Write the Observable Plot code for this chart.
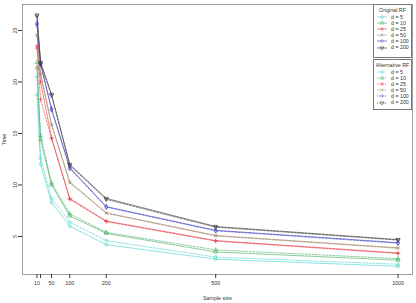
<!DOCTYPE html>
<html><head><meta charset="utf-8">
<script src="https://cdn.jsdelivr.net/npm/d3@7"></script>
<script src="https://cdn.jsdelivr.net/npm/@observablehq/plot@0.6"></script>
<style>
body{margin:0;background:#fff;font-family:"Liberation Sans",Arial,sans-serif;}
#wrap{position:relative;width:416px;height:303px;overflow:hidden;}
.lg{position:absolute;border:1px solid #777;background:#fff;box-sizing:border-box;font-size:5.3px;color:#333;}
.lg .t{text-align:center;line-height:7px;margin-top:2px;}
.lg .r{height:6.1px;line-height:6.1px;white-space:nowrap;display:flex;align-items:center;}
.lg svg{display:block;margin-left:3px;margin-right:4px;}
</style></head>
<body><div id="wrap"></div>
<script>
const sampleSizes = [10, 20, 50, 100, 200, 500, 1000];
const dims = ["5", "10", "25", "50", "100", "200"];
const colors = ["#40D0C8", "#3CAA5A", "#E8343C", "#A08060", "#3A3AC8", "#333333"];
const symbols = ["circle", "triangle", "plus", "times", "diamond", "triangle"];
// Original RF (solid)
const orig_d5   = [18.8, 12.0, 8.3, 6.0, 4.2, 2.8, 2.1];
const orig_d10  = [21.4, 14.4, 10.0, 7.0, 5.3, 3.5, 2.7];
const orig_d25  = [23.5, 20.0, 14.6, 8.7, 6.5, 4.6, 3.4];
const orig_d50  = [24.6, 20.8, 15.9, 10.3, 7.3, 5.1, 3.9];
const orig_d100 = [25.7, 21.8, 17.4, 11.7, 7.9, 5.6, 4.4];
const orig_d200 = [26.5, 21.9, 18.8, 12.0, 8.7, 5.97, 4.7];
// Alternative RF (dashed)
const alt_d5   = [20.5, 12.6, 8.7, 6.4, 4.6, 3.0, 2.3];
const alt_d10  = [21.9, 14.8, 10.2, 7.2, 5.4, 3.7, 2.85];
const alt_d25  = [23.3, 18.3, 14.5, 8.6, 6.45, 4.55, 3.35];
const alt_d50  = [24.5, 20.7, 15.8, 10.2, 7.25, 5.05, 3.85];
const alt_d100 = [25.6, 21.7, 17.3, 11.6, 7.85, 5.55, 4.35];
const alt_d200 = [26.4, 21.8, 18.7, 11.9, 8.6, 5.9, 4.65];
const yTicks = [5, 10, 15, 20, 25];
const xTicks = [10, 20, 50, 100, 200, 500, 1000];

const origSeries = [orig_d5, orig_d10, orig_d25, orig_d50, orig_d100, orig_d200];
const altSeries = [alt_d5, alt_d10, alt_d25, alt_d50, alt_d100, alt_d200];
const rows = [];
[["Original RF", origSeries], ["Alternative RF", altSeries]].forEach(([type, ser]) => {
  ser.forEach((vals, i) => vals.forEach((t, j) => rows.push({type, d: dims[i], n: sampleSizes[j], t})));
});
const orig = rows.filter(r => r.type === "Original RF");
const alt = rows.filter(r => r.type === "Alternative RF");

const chart = Plot.plot({
  width: 416, height: 303,
  marginLeft: 22, marginRight: 4, marginTop: 4, marginBottom: 29,
  style: {fontFamily: "'Liberation Sans', Arial, sans-serif", fontSize: "5.3px", color: "#333", background: "#fff"},
  x: {domain: [-29.6, 1039.6]},
  y: {domain: [1.31, 27.52]},
  color: {type: "ordinal", domain: dims, range: colors},
  symbol: {domain: dims, range: symbols},
  marks: [
    Plot.frame({stroke: "#888", strokeWidth: 0.8}),
    Plot.line(orig, {x: "n", y: "t", z: "d", stroke: "d", strokeWidth: 0.6}),
    Plot.line(alt, {x: "n", y: "t", z: "d", stroke: "d", strokeWidth: 0.6, strokeDasharray: "2,1.5"}),
    Plot.dot(rows, {x: "n", y: "t", stroke: "d", symbol: "d", fill: "none", r: 1.5, strokeWidth: 0.55,
      rotate: r => r.d === "200" ? 180 : 0}),
    Plot.axisX({ticks: xTicks, tickSize: 4, tickPadding: 3, tickFormat: v => v === 20 ? "" : String(v),
      label: "Sample size", labelAnchor: "center", labelArrow: "none", labelOffset: 25}),
    Plot.axisY({ticks: yTicks, tickSize: 4, tickPadding: 2, tickRotate: -90,
      label: "Time", labelAnchor: "center", labelArrow: "none", labelOffset: 20})
  ]
});
const wrap = document.getElementById("wrap");
wrap.appendChild(chart);

function symPath(i) {
  const shape = [d3.symbolCircle, d3.symbolTriangle, d3.symbolPlus || d3.symbolCross, d3.symbolTimes || d3.symbolX, d3.symbolDiamond2 || d3.symbolDiamond, d3.symbolTriangle][i];
  return d3.symbol(shape, 6)();
}
function legend(title, top, height, dash) {
  const box = document.createElement("div");
  box.className = "lg";
  box.style.left = "373px"; box.style.top = top + "px"; box.style.width = "39px"; box.style.height = height + "px";
  let html = `<div class="t">${title}</div>`;
  dims.forEach((d, i) => {
    html += `<div class="r"><svg width="10" height="6" viewBox="0 0 10 6"><line x1="0" x2="10" y1="3" y2="3" stroke="${colors[i]}" stroke-width="0.6" ${dash ? 'stroke-dasharray="1.5,1"' : ''}/><path transform="translate(5,3)${i === 5 ? ' rotate(180)' : ''}" d="${symPath(i)}" fill="none" stroke="${colors[i]}" stroke-width="0.5"/></svg><span>d = ${d}</span></div>`;
  });
  box.innerHTML = html;
  wrap.appendChild(box);
}
legend("Original RF", 4, 54, false);
legend("Alternative RF", 59, 51, true);
</script></body></html>
